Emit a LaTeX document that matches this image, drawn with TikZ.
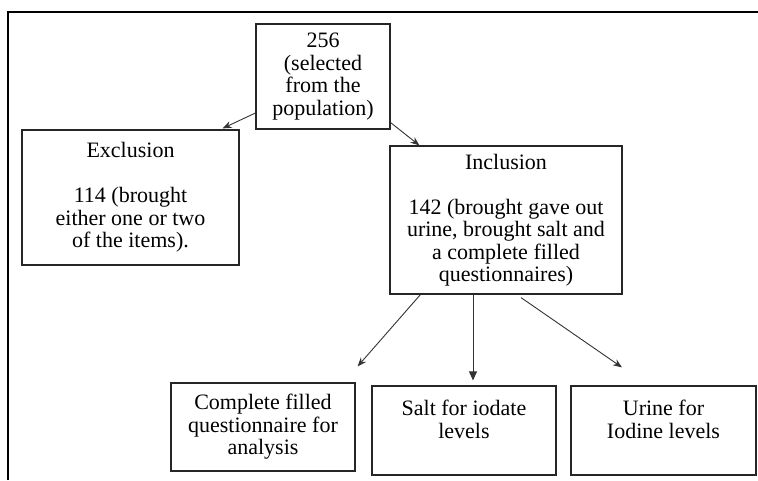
\documentclass[tikz,border=0pt]{standalone}
\usepackage{fontspec}
\setmainfont{Liberation Serif}
\usetikzlibrary{positioning,arrows.meta,calc}

\begin{document}
\begin{tikzpicture}[
  x=1pt, y=-1pt,
  every node/.style={shape=rectangle, draw=black!85, line width=1.2pt, align=center, inner sep=0pt,
    font=\fontsize{22}{22.5}\selectfont},
  link/.style={draw=black!80, line width=0.9pt, -{Stealth[length=9pt,width=7pt]}}
]
  \useasboundingbox (0,0) rectangle (758,480);
  % Frame
  \draw[line width=2pt] (8,480) -- (8,12) -- (758,12);
  % Root
  \node[minimum width=134pt, minimum height=105pt] (root) at (323,76.5)
    {256\\(selected\\from the\\population)};
  % Main branches
  \node[minimum width=217pt, minimum height=135pt] (excl) at (130.5,197.5)
    {Exclusion\\[22.5pt]114 (brought\\either one or two\\of the items).};
  \node[minimum width=232pt, minimum height=148pt] (incl) at (506,220)
    {Inclusion\\[22.5pt]142 (brought gave out\\urine, brought salt and\\a complete filled\\questionnaires)};
  % Items
  \node[minimum width=184pt, minimum height=88pt] (quest) at (263,427)
    {Complete filled\\questionnaire for\\analysis};
  \node[minimum width=184pt, minimum height=89pt] (salt) at (464,430.5)
    {Salt for iodate\\levels\\\mbox{}};
  \node[minimum width=185pt, minimum height=89pt] (urine) at (663.5,430.5)
    {Urine for\\Iodine levels\\\mbox{}};
  % Arrows
  \draw[link] ([yshift=-36.5pt]root.west) -- ([xshift=-17pt,yshift=1pt]excl.north east);
  \draw[link] ([yshift=7pt]root.south east) -- ([xshift=30pt]incl.north west);
  \draw[link] ([xshift=31pt]incl.south west) -- ([shift={(2pt,16pt)}]quest.north east);
  \draw[link, -{Triangle[length=9pt,width=8pt]}] ([xshift=-33pt]incl.south) -- ([xshift=9pt,yshift=5pt]salt.north);
  \draw[link] ([shift={(15pt,-3pt)}]incl.south) -- ([shift={(-41.5pt,18pt)}]urine.north);
\end{tikzpicture}
\end{document}
